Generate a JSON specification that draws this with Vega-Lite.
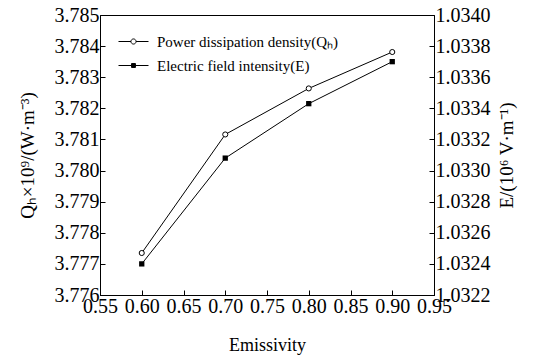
{
  "$schema": "https://vega.github.io/schema/vega-lite/v6.json",
  "autosize": "none",
  "width": 334,
  "height": 280,
  "padding": {"left": 100, "top": 15, "right": 106, "bottom": 65},
  "background": "white",
  "config": {
    "font": "Liberation Serif",
    "view": {"stroke": "black", "strokeWidth": 1},
    "axis": {
      "labelFont": "Liberation Serif",
      "titleFont": "Liberation Serif",
      "labelFontSize": 20,
      "titleFontSize": 18,
      "titleFontWeight": "normal",
      "labelColor": "black",
      "titleColor": "black",
      "domainColor": "black",
      "tickColor": "black",
      "grid": false
    },
    "legend": {"labelFont": "Liberation Serif"}
  },
  "data": {
    "values": [
      {"x": 0.6, "series": "Power dissipation density(Qₕ)", "v": 3.77735},
      {"x": 0.7, "series": "Power dissipation density(Qₕ)", "v": 3.78116},
      {"x": 0.8, "series": "Power dissipation density(Qₕ)", "v": 3.78264},
      {"x": 0.9, "series": "Power dissipation density(Qₕ)", "v": 3.78381},
      {"x": 0.6, "series": "Electric field intensity(E)", "v": 1.0324},
      {"x": 0.7, "series": "Electric field intensity(E)", "v": 1.03308},
      {"x": 0.8, "series": "Electric field intensity(E)", "v": 1.03343},
      {"x": 0.9, "series": "Electric field intensity(E)", "v": 1.0337}
    ]
  },
  "encoding": {
    "x": {
      "field": "x",
      "type": "quantitative",
      "scale": {"domain": [0.55, 0.95], "nice": false, "zero": false},
      "axis": {
        "title": "Emissivity",
        "labelFont": "Liberation Serif",
        "labelFontSize": 20,
        "titleFont": "Liberation Serif",
        "titleFontSize": 18,
        "values": [0.55, 0.6, 0.65, 0.7, 0.75, 0.8, 0.85, 0.9, 0.95],
        "format": ".2f",
        "tickSize": -5,
        "labelPadding": 6,
        "labelFlush": false,
        "labelOverlap": false,
        "titlePadding": 20
      }
    }
  },
  "layer": [
    {
      "transform": [{"filter": "datum.series === 'Power dissipation density(Qₕ)'"}],
      "encoding": {
        "y": {
          "field": "v",
          "type": "quantitative",
          "scale": {"domain": [3.776, 3.785], "nice": false, "zero": false},
          "axis": {
            "title": "Qₕ×10⁹/(W·m⁻³)",
            "orient": "left",
            "labelFont": "Liberation Serif",
            "labelFontSize": 20,
            "titleFont": "Liberation Serif",
            "titleFontSize": 19,
            "values": [3.776, 3.777, 3.778, 3.779, 3.78, 3.781, 3.782, 3.783, 3.784, 3.785],
            "format": ".3f",
            "tickSize": -5,
            "labelPadding": 6,
            "labelFlush": false,
            "labelOverlap": false,
            "titlePadding": 17
          }
        }
      },
      "layer": [
        {"mark": {"type": "line", "color": "black", "strokeWidth": 1}},
        {"mark": {"type": "point", "shape": "circle", "size": 26, "fill": "white", "stroke": "black", "strokeWidth": 1, "opacity": 1}}
      ]
    },
    {
      "transform": [{"filter": "datum.series === 'Electric field intensity(E)'"}],
      "encoding": {
        "y": {
          "field": "v",
          "type": "quantitative",
          "scale": {"domain": [1.0322, 1.034], "nice": false, "zero": false},
          "axis": {
            "title": "E/(10⁶ V·m⁻¹)",
            "orient": "right",
            "titleAngle": 270,
            "titleBaseline": "top",
            "labelFont": "Liberation Serif",
            "labelFontSize": 20,
            "titleFont": "Liberation Serif",
            "titleFontSize": 19,
            "values": [1.0322, 1.0324, 1.0326, 1.0328, 1.033, 1.0332, 1.0334, 1.0336, 1.0338, 1.034],
            "format": ".4f",
            "tickSize": -5,
            "labelPadding": 6,
            "labelFlush": false,
            "labelOverlap": false,
            "titlePadding": 7
          }
        }
      },
      "layer": [
        {"mark": {"type": "line", "color": "black", "strokeWidth": 1}},
        {"mark": {"type": "point", "shape": "square", "size": 28, "filled": true, "color": "black", "opacity": 1}}
      ]
    },
    {
      "mark": {"type": "point", "filled": true, "opacity": 0},
      "encoding": {
        "y": {"field": "v", "type": "quantitative", "axis": null, "scale": {"zero": false}},
        "fill": {
          "field": "series",
          "type": "nominal",
          "scale": {
            "domain": ["Power dissipation density(Qₕ)", "Electric field intensity(E)"],
            "range": ["white", "black"]
          },
          "legend": {
            "title": null,
            "orient": "none",
            "legendX": 18,
            "legendY": 11,
            "labelFont": "Liberation Serif",
            "labelFontSize": 15,
            "labelColor": "black",
            "labelLimit": 400,
            "symbolSize": 900,
            "symbolOpacity": 1,
            "symbolStrokeColor": "black",
            "symbolStrokeWidth": 1,
            "rowPadding": -8,
            "labelOffset": 8,
            "padding": 0,
            "encode": {
              "symbols": {
                "update": {
                  "opacity": {"value": 1},
                  "stroke": {"value": "black"},
                  "strokeWidth": {"value": 1}
                }
              }
            }
          }
        },
        "shape": {
          "field": "series",
          "type": "nominal",
          "scale": {
            "domain": ["Power dissipation density(Qₕ)", "Electric field intensity(E)"],
            "range": [
              "M-1,0H-0.17M0.17,0H1M-0.17,0A0.17,0.17 0 1,0 0.17,0A0.17,0.17 0 1,0 -0.17,0Z",
              "M-1,0H1M-0.13,-0.13H0.13V0.13H-0.13Z"
            ]
          }
        }
      }
    }
  ],
  "resolve": {"scale": {"y": "independent"}}
}
